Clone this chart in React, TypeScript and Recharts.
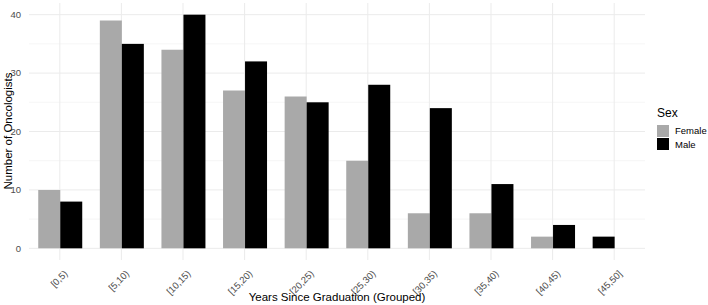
import { BarChart, Bar, XAxis, YAxis, CartesianGrid } from "recharts"

// Years since graduation groups
const groups = ["[0,5)", "[5,10)", "[10,15)", "[15,20)", "[20,25)", "[25,30)", "[30,35)", "[35,40)", "[40,45)", "[45,50]"]
// Number of oncologists per group
const female = [10, 39, 34, 27, 26, 15, 6, 6, 2, null]
const male = [8, 35, 40, 32, 25, 28, 24, 11, 4, 2]
const yTicks = [0, 10, 20, 30, 40]
const minorTicks = [5, 15, 25, 35]

const data = groups.map((g, i) => ({ group: g, Female: female[i], Male: male[i] }))

const FONT = "'Liberation Sans', Arial, Helvetica, sans-serif"
const FEMALE_COLOR = "#A9A9A9"
const MALE_COLOR = "#000000"

// when a group has no female bar, ggplot puts the male bar in the first slot
const MaleShape = (props: any) => {
  const { x, y, width, height, payload } = props
  const shift = payload.Female == null ? width : 0
  return <rect x={x - shift} y={y} width={width} height={height} fill={MALE_COLOR} />
}

const XTick = ({ x, y, payload }: any) => (
  <text
    x={x + 6}
    y={y + 4}
    transform={`rotate(-45, ${x + 6}, ${y + 4})`}
    textAnchor="end"
    fontSize={9.5}
    fill="#4D4D4D"
    fontFamily={FONT}
    dy="0.35em"
  >
    {payload.value}
  </text>
)

const LegendBox = () => (
  <div style={{ position: "absolute", left: 657, top: 106, fontFamily: FONT, color: "#000" }}>
    <div style={{ fontSize: 12, marginBottom: 4 }}>Sex</div>
    {[
      ["Female", FEMALE_COLOR],
      ["Male", MALE_COLOR],
    ].map(([name, c]) => (
      <div key={name} style={{ display: "flex", alignItems: "center", height: 13, marginBottom: 0.5 }}>
        <div style={{ width: 12, height: 12, background: c, marginRight: 6 }} />
        <span style={{ fontSize: 9.5 }}>{name}</span>
      </div>
    ))}
  </div>
)

export default function App() {
  return (
    <div style={{ position: "absolute", left: 0, top: 0, width: 708, height: 305, background: "#fff" }}>
      <BarChart
        width={708}
        height={305}
        data={data}
        margin={{ top: 3, right: 63, left: 0, bottom: 0 }}
        barCategoryGap="15%"
        barGap={0}
      >
        <CartesianGrid
          horizontalValues={minorTicks}
          vertical={false}
          syncWithTicks
          stroke="#F0F0F0"
          strokeWidth={0.6}
        />
        <CartesianGrid horizontalValues={yTicks} syncWithTicks stroke="#EBEBEB" strokeWidth={1} />
        <XAxis
          dataKey="group"
          axisLine={false}
          tickLine={false}
          height={45}
          tick={<XTick />}
          interval={0}
          label={{
            value: "Years Since Graduation (Grouped)",
            position: "insideBottom",
            offset: 4,
            fontSize: 11.5,
            fill: "#000",
            fontFamily: FONT,
          }}
        />
        <YAxis
          width={29}
          domain={[-2, 42]}
          ticks={yTicks}
          axisLine={false}
          tickLine={false}
          tick={{ fontSize: 9.5, fill: "#4D4D4D", fontFamily: FONT }}
          tickMargin={2}
        />
        <Bar dataKey="Female" fill={FEMALE_COLOR} isAnimationActive={false} />
        <Bar dataKey="Male" fill={MALE_COLOR} shape={<MaleShape />} isAnimationActive={false} />
      </BarChart>
      <svg width={20} height={305} style={{ position: "absolute", left: 0, top: 0 }}>
        <text
          x={12}
          y={131}
          transform="rotate(-90, 12, 131)"
          textAnchor="middle"
          fontSize={11.5}
          fill="#000"
          fontFamily={FONT}
        >
          Number of Oncologists
        </text>
      </svg>
      <LegendBox />
    </div>
  )
}
